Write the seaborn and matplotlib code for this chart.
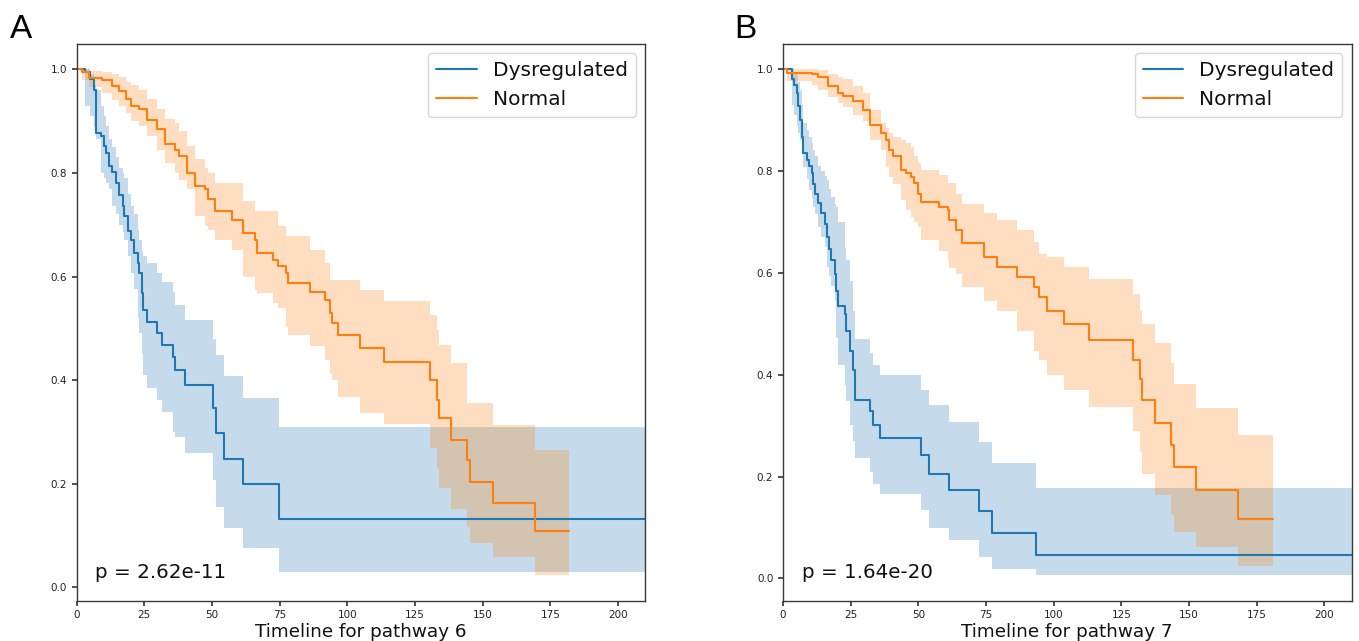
import numpy as np
import pandas as pd
import matplotlib
matplotlib.use("Agg")
import matplotlib.pyplot as plt
from matplotlib.ticker import MultipleLocator
import seaborn as sns

# ---------------- Pathway 6 ----------------
a_dys_time = [0, 3, 5, 6.5, 7, 9, 10, 11, 12, 13, 14.5, 15.5, 17, 17.5, 19, 20, 21,
              22.5, 23, 24, 24.5, 26, 29.5, 31.5, 35.5, 36.5, 40, 50.4, 51.3, 54.6,
              61.5, 74.9, 210]
a_dys_surv = [1.0, 0.994, 0.981, 0.961, 0.878, 0.871, 0.852, 0.839, 0.813, 0.801, 0.781,
              0.758, 0.736, 0.716, 0.687, 0.671, 0.645, 0.626, 0.607, 0.569, 0.536, 0.513,
              0.491, 0.468, 0.445, 0.420, 0.391, 0.346, 0.298, 0.248, 0.199, 0.131, 0.131]
a_dys_lo = [1.0, 0.93, 0.91, 0.888, 0.865, 0.80, 0.79, 0.78, 0.768, 0.736, 0.72, 0.70,
            0.685, 0.671, 0.64, 0.606, 0.575, 0.52, 0.49, 0.45, 0.41, 0.385, 0.362, 0.339,
            0.30, 0.291, 0.259, 0.207, 0.155, 0.114, 0.075, 0.030, 0.030]
a_dys_hi = [1.0, 1.0, 0.99, 0.97, 0.96, 0.93, 0.91, 0.89, 0.865, 0.85, 0.83, 0.81, 0.80,
            0.79, 0.76, 0.736, 0.72, 0.69, 0.671, 0.65, 0.64, 0.626, 0.606, 0.59, 0.57,
            0.545, 0.516, 0.48, 0.449, 0.407, 0.366, 0.31, 0.31]

a_nor_time = [0, 2, 4.6, 9.5, 13.2, 15.6, 18.1, 19.9, 23.0, 26.0, 29.7, 32.8, 36.5, 37.7,
              40.7, 43.8, 47.5, 48.7, 51.2, 57.3, 61.6, 65.9, 66.5, 72.6, 74.4, 77.5, 78.1,
              86.1, 91.6, 93.5, 94.5, 96.5, 104.6, 113.5, 130.4, 133.1, 133.9, 138.2,
              144.4, 145.3, 154.0, 169.4, 182.0]
a_nor_surv = [1.0, 0.995, 0.984, 0.979, 0.968, 0.958, 0.942, 0.929, 0.923, 0.903, 0.884,
              0.855, 0.845, 0.832, 0.800, 0.774, 0.768, 0.749, 0.726, 0.71, 0.684, 0.671,
              0.645, 0.632, 0.62, 0.607, 0.587, 0.571, 0.555, 0.529, 0.51, 0.487, 0.462,
              0.434, 0.400, 0.362, 0.326, 0.284, 0.246, 0.204, 0.163, 0.109, 0.109]
a_nor_lo = [1.0, 0.98, 0.965, 0.955, 0.94, 0.93, 0.915, 0.90, 0.89, 0.871, 0.845, 0.82,
            0.80, 0.787, 0.768, 0.716, 0.697, 0.69, 0.671, 0.652, 0.60, 0.574, 0.568,
            0.548, 0.54, 0.503, 0.487, 0.465, 0.439, 0.413, 0.40, 0.368, 0.336, 0.315,
            0.268, 0.23, 0.191, 0.152, 0.117, 0.085, 0.059, 0.023, 0.023]
a_nor_hi = [1.0, 1.0, 0.997, 0.995, 0.99, 0.985, 0.975, 0.97, 0.961, 0.942, 0.923, 0.905,
            0.897, 0.88, 0.852, 0.826, 0.81, 0.80, 0.781, 0.781, 0.745, 0.726, 0.726,
            0.726, 0.697, 0.678, 0.678, 0.652, 0.626, 0.594, 0.594, 0.594, 0.574, 0.552,
            0.526, 0.497, 0.468, 0.433, 0.355, 0.355, 0.313, 0.265, 0.265]

# ---------------- Pathway 7 ----------------
b_dys_time = [0, 3.2, 4.2, 5.0, 5.6, 6.2, 6.9, 7.5, 8.7, 9.5, 10.6, 11.2, 11.8, 12.8,
              14.2, 15.4, 16.1, 17.0, 17.9, 19.1, 19.7, 20.3, 22.8, 23.4, 24.6, 25.8,
              26.5, 32.0, 33.2, 35.7, 51.0, 54.0, 61.4, 72.4, 77.3, 93.6, 210]
b_dys_surv = [1.0, 0.98, 0.97, 0.954, 0.928, 0.90, 0.868, 0.835, 0.822, 0.81, 0.796,
              0.775, 0.756, 0.737, 0.717, 0.697, 0.671, 0.648, 0.625, 0.598, 0.565, 0.536,
              0.519, 0.486, 0.447, 0.41, 0.351, 0.328, 0.302, 0.275, 0.242, 0.206, 0.173,
              0.132, 0.09, 0.047, 0.047]
b_dys_lo = [1.0, 0.93, 0.91, 0.888, 0.875, 0.862, 0.835, 0.809, 0.785, 0.763, 0.745, 0.73,
            0.715, 0.69, 0.67, 0.651, 0.611, 0.595, 0.575, 0.545, 0.473, 0.42, 0.38,
            0.348, 0.302, 0.27, 0.236, 0.209, 0.185, 0.166, 0.134, 0.10, 0.075, 0.042,
            0.019, 0.006, 0.006]
b_dys_hi = [1.0, 1.0, 0.995, 0.99, 0.975, 0.96, 0.93, 0.895, 0.88, 0.868, 0.855, 0.842,
            0.83, 0.81, 0.80, 0.79, 0.783, 0.765, 0.75, 0.735, 0.73, 0.70, 0.65, 0.625,
            0.585, 0.526, 0.47, 0.443, 0.42, 0.40, 0.37, 0.34, 0.307, 0.268, 0.226,
            0.177, 0.177]

b_nor_time = [0, 1.5, 10.6, 13.0, 16.7, 20.3, 22.2, 25.8, 29.5, 32.0, 36.3, 38.1, 39.3,
              40.6, 43.6, 45.5, 47.3, 48.5, 49.7, 51.0, 57.7, 60.8, 61.4, 63.9, 66.3,
              74.3, 79.2, 86.5, 92.6, 94.5, 97.5, 103.7, 112.9, 129.4, 131.9, 132.5,
              137.4, 143.5, 144.5, 152.7, 168.0, 180.9]
b_nor_surv = [1.0, 0.993, 0.99, 0.984, 0.967, 0.954, 0.947, 0.937, 0.921, 0.891, 0.875,
              0.862, 0.842, 0.829, 0.802, 0.796, 0.789, 0.776, 0.756, 0.74, 0.73, 0.723,
              0.704, 0.684, 0.658, 0.631, 0.611, 0.592, 0.572, 0.552, 0.526, 0.499, 0.468,
              0.429, 0.391, 0.351, 0.305, 0.262, 0.219, 0.173, 0.116, 0.116]
b_nor_lo = [1.0, 0.977, 0.97, 0.96, 0.945, 0.934, 0.925, 0.911, 0.898, 0.862, 0.842,
            0.809, 0.789, 0.775, 0.743, 0.723, 0.71, 0.70, 0.69, 0.664, 0.644, 0.625,
            0.61, 0.598, 0.572, 0.545, 0.526, 0.486, 0.447, 0.43, 0.40, 0.371, 0.336,
            0.289, 0.249, 0.206, 0.163, 0.124, 0.091, 0.061, 0.025, 0.025]
b_nor_hi = [1.0, 1.0, 1.0, 0.998, 0.99, 0.985, 0.98, 0.967, 0.954, 0.921, 0.895, 0.885,
            0.875, 0.868, 0.862, 0.855, 0.848, 0.829, 0.815, 0.802, 0.792, 0.776, 0.776,
            0.756, 0.736, 0.717, 0.704, 0.684, 0.661, 0.638, 0.631, 0.611, 0.588, 0.559,
            0.526, 0.499, 0.463, 0.424, 0.381, 0.335, 0.282, 0.282]

group_labels = ["Dysregulated", "Normal"]
panel_letters = ["A", "B"]
xlabels = ["Timeline for pathway 6", "Timeline for pathway 7"]
pvalues = ["p = 2.62e-11", "p = 1.64e-20"]

panels = [
    [(a_dys_time, a_dys_surv, a_dys_lo, a_dys_hi), (a_nor_time, a_nor_surv, a_nor_lo, a_nor_hi)],
    [(b_dys_time, b_dys_surv, b_dys_lo, b_dys_hi), (b_nor_time, b_nor_surv, b_nor_lo, b_nor_hi)],
]

sns.set_theme(style="ticks", rc={
    "axes.edgecolor": "#3a3a3a",
    "axes.linewidth": 1.0,
    "text.color": "#111111",
    "axes.labelcolor": "#111111",
    "xtick.color": "#3a3a3a",
    "ytick.color": "#3a3a3a",
    "xtick.labelcolor": "#222222",
    "ytick.labelcolor": "#222222",
    "xtick.labelsize": 7.5,
    "ytick.labelsize": 7.5,
    "xtick.major.size": 3.5,
    "ytick.major.size": 3.5,
})
plt.rcParams["font.family"] = ["DejaVu Sans"]

colors = ["#1f77b4", "#ff7f0e"]

fig = plt.figure(figsize=(13.59, 6.41), dpi=100)
axes_rects = [
    [76.7 / 1359, 1 - 600.7 / 641, (645 - 76.7) / 1359, (600.7 - 44) / 641],
    [783 / 1359, 1 - 600.7 / 641, (1351.5 - 783) / 1359, (600.7 - 44) / 641],
]
letter_x = [10 / 1359, 734 / 1359]

for i, groups in enumerate(panels):
    ax = fig.add_axes(axes_rects[i])
    for (t, s, lo, hi), lab, col in zip(groups, group_labels, colors):
        df = pd.DataFrame({"time": t, "survival": s})
        sns.lineplot(data=df, x="time", y="survival", ax=ax, color=col, label=lab,
                     drawstyle="steps-post", linewidth=1.5, estimator=None, sort=False)
        ax.fill_between(t, lo, hi, step="post", color=col, alpha=0.26, linewidth=0)
    ax.set_xlim(0, 210)
    ax.margins(y=0.05)
    ax.xaxis.set_major_locator(MultipleLocator(25))
    ax.yaxis.set_major_locator(MultipleLocator(0.2))
    ax.set_xlabel(xlabels[i], fontsize=13.2, labelpad=2)
    ax.set_ylabel("")
    ax.legend(loc="upper right", fontsize=14.5, frameon=True, fancybox=True,
              framealpha=0.8, edgecolor="#cccccc", handlelength=2.0,
              borderaxespad=0.45)
    ax.text(0.033, 0.04, pvalues[i], transform=ax.transAxes, fontsize=14.3,
            ha="left", va="baseline")
    fig.text(letter_x[i], 1 - 38 / 641, panel_letters[i], fontsize=24, color="black",
             family=["Liberation Sans", "DejaVu Sans"], ha="left", va="baseline")

fig.savefig("out.png", dpi=100)
